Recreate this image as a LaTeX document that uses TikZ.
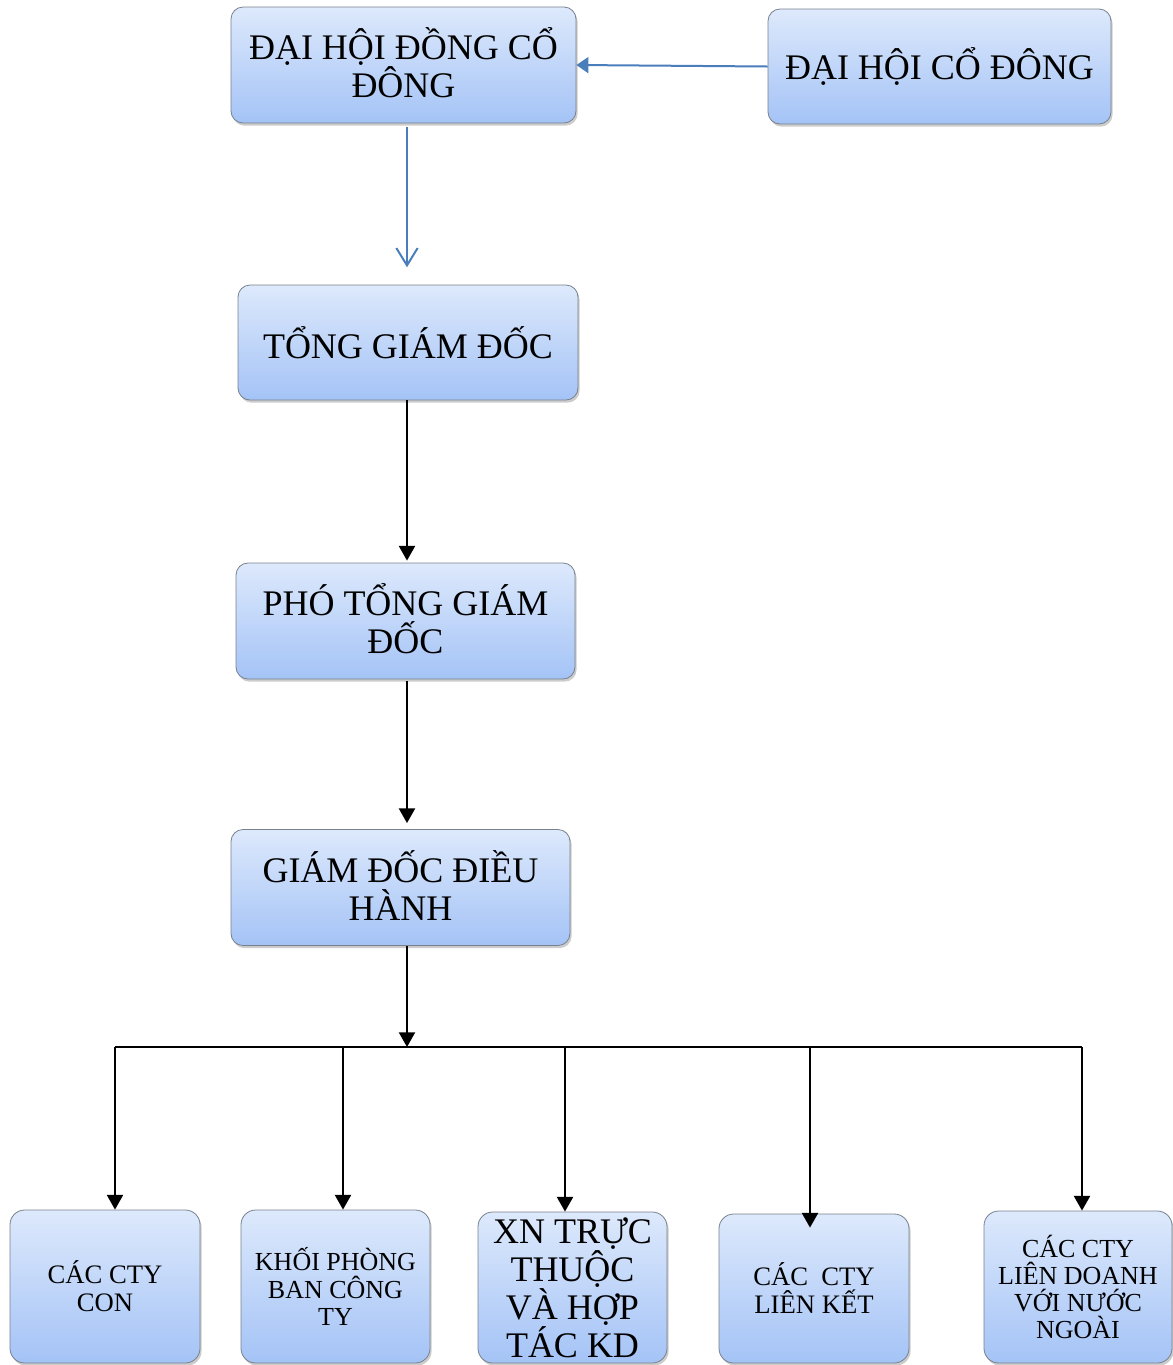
\documentclass[tikz,border=0pt]{standalone}
\usepackage{fontspec}
\setmainfont{Liberation Serif}
\usetikzlibrary{arrows.meta,shadows}
\definecolor{boxtop}{RGB}{221,233,252}
\definecolor{boxbot}{RGB}{164,195,246}
\definecolor{boxline}{RGB}{120,128,140}
\definecolor{bluearrow}{RGB}{74,126,187}
\tikzset{
  box/.style={rectangle, rounded corners=9pt, draw=boxline, line width=0.6pt,
    top color=boxtop, bottom color=boxbot, inner sep=0pt,
    drop shadow={shadow xshift=1.2pt, shadow yshift=-2pt, opacity=0.4}},
  bigtxt/.style={align=center, inner sep=0pt, font=\fontsize{27}{28.5}\selectfont},
  smalltxt/.style={align=center, inner sep=0pt, font=\fontsize{20}{21}\selectfont},
  blk/.style={draw=black, line width=1.5pt, -{Triangle[length=11pt,width=12pt]}},
  bus/.style={draw=black, line width=1.5pt},
  blu/.style={draw=bluearrow, line width=1.5pt},
}
\begin{document}
\begin{tikzpicture}[x=0.75pt,y=-0.75pt]
\useasboundingbox (0,0) rectangle (1173,1365);
\coordinate (j) at (407,1047);
% top boxes
\node[box, minimum width=258.75pt, minimum height=87pt] (dhdcd) at (403.5,65) {};
\node[bigtxt] (dhdcdt) at ([yshift=1.5pt]dhdcd.center) {ĐẠI HỘI ĐỒNG CỔ\\ĐÔNG};
\node[box, minimum width=257.25pt, minimum height=86.25pt] (dhcd) at (939.5,66.5) {};
\node[bigtxt] (dhcdt) at (dhcd.center) {ĐẠI HỘI CỔ ĐÔNG};
\node[box, minimum width=255pt, minimum height=86.25pt] (tgd) at (408,342.5) {};
\node[bigtxt] (tgdt) at (tgd.center) {TỔNG GIÁM ĐỐC};
\node[box, minimum width=254.25pt, minimum height=87pt] (ptgd) at (405.5,621) {};
\node[bigtxt] (ptgdt) at ([yshift=1.5pt]ptgd.center) {PHÓ TỔNG GIÁM\\ĐỐC};
\node[box, minimum width=254.25pt, minimum height=87pt] (gddh) at (400.5,887.5) {};
\node[bigtxt] (gddht) at ([yshift=1.5pt]gddh.center) {GIÁM ĐỐC ĐIỀU\\HÀNH};
% bottom boxes
\node[box, rounded corners=11pt, minimum width=142.5pt, minimum height=114.75pt] (b1) at (105,1286.5) {};
\node[smalltxt] (b1t) at (b1.center) {CÁC CTY\\CON};
\node[box, rounded corners=11pt, minimum width=141.75pt, minimum height=114.75pt] (b2) at (335.5,1286.5) {};
\node[smalltxt, font=\fontsize{19.5}{20.3}\selectfont] (b2t) at (b2.center) {KHỐI PHÒNG\\BAN CÔNG\\TY};
\node[box, rounded corners=11pt, minimum width=141.75pt, minimum height=113.25pt] (b3) at (572.5,1287.5) {};
\node[bigtxt] (b3t) at (b3.center) {XN TRỰC\\THUỘC\\VÀ HỢP\\TÁC KD};
\node[box, rounded corners=11pt, minimum width=142.5pt, minimum height=111.75pt] (b4) at (814,1288.5) {};
\node[smalltxt] (b4t) at (b4.center) {CÁC~ CTY\\LIÊN KẾT};
\node[box, rounded corners=11pt, minimum width=141pt, minimum height=114pt] (b5) at (1078,1287) {};
\node[smalltxt, font=\fontsize{19.5}{20.3}\selectfont] (b5t) at (b5.center) {CÁC CTY\\LIÊN DOANH\\VỚI NƯỚC\\NGOÀI};
% blue connectors
\draw[blu, -{Triangle[length=9pt,width=12pt]}] (dhcd.west) -- (dhdcd.east);
\draw[blu, -{Straight Barb[length=13pt,width=16pt,line width=1.5pt]}] ([yshift=-2.5pt]dhdcd.south -| j) -- ([yshift=13pt]tgd.north -| j);
% black connectors
\draw[blk, shorten >=1.5pt] (tgd.south -| j) -- (ptgd.north -| j);
\draw[blk, shorten >=4.5pt, shorten <=1.5pt] (ptgd.south -| j) -- (gddh.north -| j);
\draw[blk] (gddh.south -| j) -- (j);
\coordinate (busl) at (115,1047);
\coordinate (busr) at (1082,1047);
\coordinate (d2) at (343,1047);
\coordinate (d3) at (565,1047);
\coordinate (d4) at (810,1047);
\draw[bus] (busl) -- (busr);
\draw[blk] (busl) -- (busl |- b1.north);
\draw[blk] (d2) -- (d2 |- b2.north);
\draw[blk] (d3) -- (d3 |- b3.north);
\draw[blk] (d4) -- ([yshift=-10.5pt]d4 |- b4.north);
\draw[blk] (busr) -- (busr |- b5.north);
\end{tikzpicture}
\end{document}
